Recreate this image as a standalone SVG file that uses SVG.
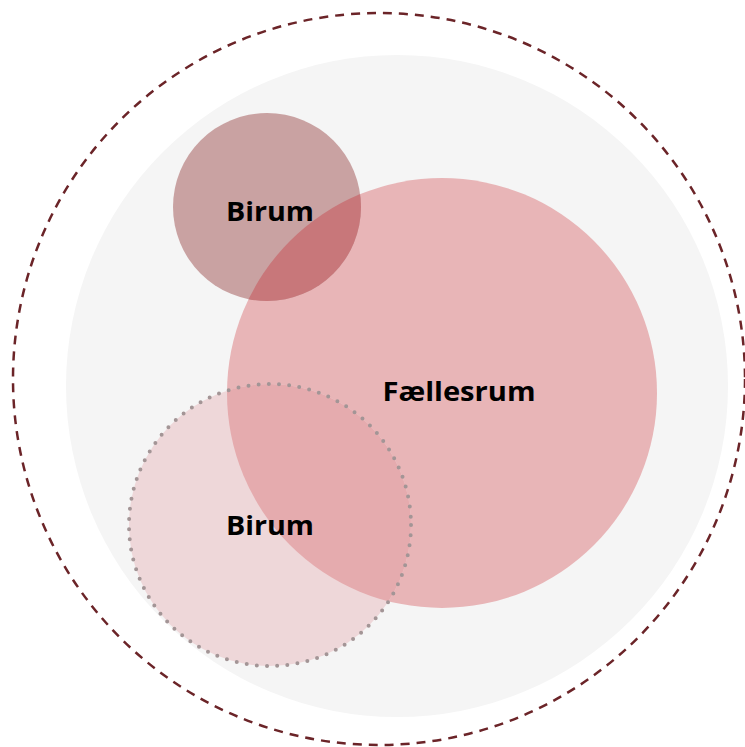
<svg xmlns="http://www.w3.org/2000/svg" width="745" height="747" viewBox="0 0 745 747">
<style>
.lbl{font-family:"Open Sans","Liberation Sans",sans-serif;font-weight:700;font-size:27px;fill:#000;text-anchor:middle}
</style>
<defs>
<clipPath id="cBig"><circle cx="442" cy="393" r="215"/></clipPath>
</defs>
<rect width="745" height="747" fill="#ffffff"/>
<g id="outer">
<circle cx="379" cy="379" r="366" fill="none" stroke="#6b2428" stroke-width="2.5" stroke-dasharray="9 7"/>
</g>
<g id="area">
<circle cx="397" cy="386" r="331" fill="#f5f5f5"/>
</g>
<g id="faellesrum">
<circle cx="442" cy="393" r="215" fill="#e8b5b7"/>
</g>
<g id="birum-top">
<circle cx="267" cy="207" r="94" fill="#c9a2a2"/>
<circle cx="267" cy="207" r="94" fill="#c8777a" clip-path="url(#cBig)"/>
<text class="lbl" x="270" y="221" textLength="88" lengthAdjust="spacingAndGlyphs">Birum</text>
</g>
<g id="birum-bottom">
<circle cx="270" cy="525" r="141" fill="#eed7d9"/>
<circle cx="270" cy="525" r="141" fill="#e5abae" clip-path="url(#cBig)"/>
<circle cx="270" cy="525" r="141" fill="none" stroke="#a39596" stroke-width="4" stroke-linecap="round" stroke-dasharray="0 10.2"/>
<text class="lbl" x="270" y="535" textLength="88" lengthAdjust="spacingAndGlyphs">Birum</text>
</g>
<g id="faellesrum-label">
<text class="lbl" x="459" y="401" textLength="153" lengthAdjust="spacingAndGlyphs">Fællesrum</text>
</g>
</svg>
